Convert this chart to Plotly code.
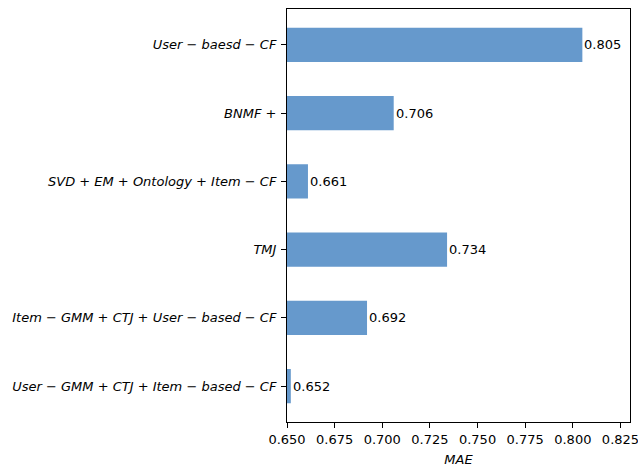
import plotly.graph_objects as go

# Methods listed bottom-to-top (as drawn by a horizontal bar chart)
methods = [
    "User − GMM + CTJ + Item − based − CF",
    "Item − GMM + CTJ + User − based − CF",
    "TMJ",
    "SVD + EM + Ontology + Item − CF",
    "BNMF +",
    "User − baesd − CF",
]
mae = [0.652, 0.692, 0.734, 0.661, 0.706, 0.805]

x_ticks = [0.650, 0.675, 0.700, 0.725, 0.750, 0.775, 0.800, 0.825]
x_tick_labels = [f"{v:.3f}" for v in x_ticks]

font_family = "DejaVu Sans"
bar_color = "#6699CC"

fig = go.Figure()
fig.add_trace(go.Bar(
    x=mae,
    y=list(range(len(methods))),
    orientation="h",
    width=0.5,
    marker=dict(color=bar_color, line=dict(width=0)),
    hoverinfo="skip",
))

# value labels just past the end of each bar
for i, v in enumerate(mae):
    fig.add_annotation(
        x=v, y=i, text=f"{v:.3f}", showarrow=False,
        xanchor="left", yanchor="middle", xshift=0,
        font=dict(family=font_family, size=13, color="black"),
    )

fig.update_layout(
    width=638, height=467,
    margin=dict(l=287, r=8, t=9, b=45),
    plot_bgcolor="white", paper_bgcolor="white",
    showlegend=False,
    font=dict(family=font_family, size=13, color="black"),
)
fig.update_xaxes(
    range=[0.65, 0.83], automargin=False,
    tickmode="array", tickvals=x_ticks, ticktext=x_tick_labels,
    ticklabeloverflow="allow",
    ticks="outside", ticklen=5, tickwidth=1, tickcolor="black",
    showline=True, linecolor="black", linewidth=1, mirror=True,
    showgrid=False, zeroline=False,
    title=dict(text="<i>MAE</i>", font=dict(family=font_family, size=13), standoff=11),
    tickfont=dict(family=font_family, size=13, color="black"),
)
fig.update_yaxes(
    range=[-0.525, len(methods) - 1 + 0.525], automargin=False,
    tickmode="array", tickvals=list(range(len(methods))),
    ticktext=[f"<i>{m}</i>" for m in methods],
    ticks="outside", ticklen=5, tickwidth=1, tickcolor="black",
    ticklabelstandoff=2,
    showline=True, linecolor="black", linewidth=1, mirror=True,
    showgrid=False, zeroline=False,
    tickfont=dict(family=font_family, size=13, color="black"),
)

fig.write_html("out.html")
